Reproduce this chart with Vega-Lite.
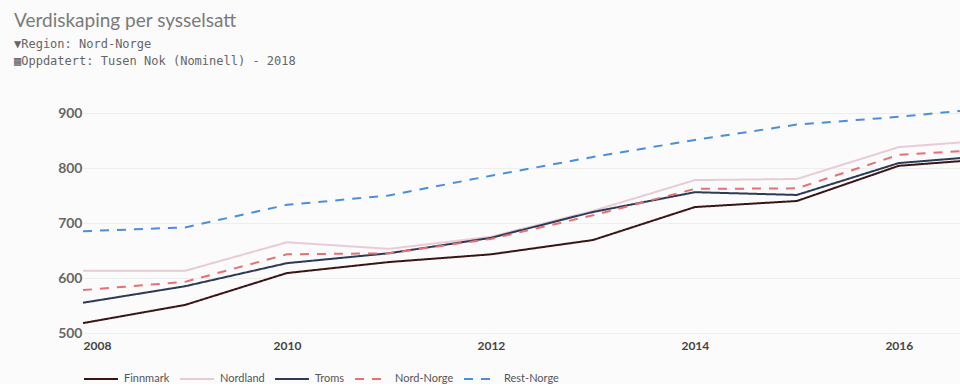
{
  "$schema": "https://vega.github.io/schema/vega-lite/v6.json",
  "width": 877,
  "height": 231,
  "padding": {"left": 14, "top": 12, "right": 0, "bottom": 0},
  "background": "#fbfbfb",
  "title": {
    "text": "Verdiskaping per sysselsatt",
    "subtitle": ["▼Region: Nord-Norge", "▦Oppdatert: Tusen Nok (Nominell) - 2018"],
    "anchor": "start",
    "frame": "bounds",
    "font": "Lato",
    "fontSize": 19,
    "fontWeight": "normal",
    "color": "#7a7a7a",
    "subtitleFont": "DejaVu Sans Mono",
    "subtitleFontSize": 12,
    "subtitleColor": "#666666",
    "subtitleLineHeight": 17,
    "subtitlePadding": 8,
    "offset": 35
  },
  "data": {
    "values": [
      {"year": 2008, "region": "Finnmark", "value": 518},
      {"year": 2009, "region": "Finnmark", "value": 551},
      {"year": 2010, "region": "Finnmark", "value": 609},
      {"year": 2011, "region": "Finnmark", "value": 629},
      {"year": 2012, "region": "Finnmark", "value": 643},
      {"year": 2013, "region": "Finnmark", "value": 669},
      {"year": 2014, "region": "Finnmark", "value": 729},
      {"year": 2015, "region": "Finnmark", "value": 740},
      {"year": 2016, "region": "Finnmark", "value": 804},
      {"year": 2017, "region": "Finnmark", "value": 818},
      {"year": 2008, "region": "Nordland", "value": 613},
      {"year": 2009, "region": "Nordland", "value": 613},
      {"year": 2010, "region": "Nordland", "value": 665},
      {"year": 2011, "region": "Nordland", "value": 653},
      {"year": 2012, "region": "Nordland", "value": 675},
      {"year": 2013, "region": "Nordland", "value": 722},
      {"year": 2014, "region": "Nordland", "value": 778},
      {"year": 2015, "region": "Nordland", "value": 780},
      {"year": 2016, "region": "Nordland", "value": 838},
      {"year": 2017, "region": "Nordland", "value": 852},
      {"year": 2008, "region": "Troms", "value": 555},
      {"year": 2009, "region": "Troms", "value": 585},
      {"year": 2010, "region": "Troms", "value": 627},
      {"year": 2011, "region": "Troms", "value": 645},
      {"year": 2012, "region": "Troms", "value": 673},
      {"year": 2013, "region": "Troms", "value": 720},
      {"year": 2014, "region": "Troms", "value": 756},
      {"year": 2015, "region": "Troms", "value": 751},
      {"year": 2016, "region": "Troms", "value": 809},
      {"year": 2017, "region": "Troms", "value": 824},
      {"year": 2008, "region": "Nord-Norge", "value": 578},
      {"year": 2009, "region": "Nord-Norge", "value": 593},
      {"year": 2010, "region": "Nord-Norge", "value": 643},
      {"year": 2011, "region": "Nord-Norge", "value": 645},
      {"year": 2012, "region": "Nord-Norge", "value": 671},
      {"year": 2013, "region": "Nord-Norge", "value": 714},
      {"year": 2014, "region": "Nord-Norge", "value": 762},
      {"year": 2015, "region": "Nord-Norge", "value": 763},
      {"year": 2016, "region": "Nord-Norge", "value": 824},
      {"year": 2017, "region": "Nord-Norge", "value": 835},
      {"year": 2008, "region": "Rest-Norge", "value": 685},
      {"year": 2009, "region": "Rest-Norge", "value": 692},
      {"year": 2010, "region": "Rest-Norge", "value": 733},
      {"year": 2011, "region": "Rest-Norge", "value": 750},
      {"year": 2012, "region": "Rest-Norge", "value": 786},
      {"year": 2013, "region": "Rest-Norge", "value": 820},
      {"year": 2014, "region": "Rest-Norge", "value": 851},
      {"year": 2015, "region": "Rest-Norge", "value": 879},
      {"year": 2016, "region": "Rest-Norge", "value": 893},
      {"year": 2017, "region": "Rest-Norge", "value": 911}
    ]
  },
  "mark": {"type": "line", "strokeWidth": 2, "clip": true},
  "encoding": {
    "x": {
      "field": "year",
      "type": "quantitative",
      "scale": {"domain": [2008, 2016.6], "nice": false, "zero": false},
      "axis": {
        "title": null,
        "values": [2008, 2010, 2012, 2014, 2016],
        "format": "d",
        "grid": false,
        "ticks": false,
        "domain": false,
        "labelPadding": 7,
        "labelFont": "Lato",
        "labelFontSize": 12,
        "labelFontWeight": "bold",
        "labelColor": "#444444"
      }
    },
    "y": {
      "field": "value",
      "type": "quantitative",
      "scale": {"domain": [500, 920], "nice": false, "zero": false},
      "axis": {
        "title": null,
        "values": [500, 600, 700, 800, 900],
        "grid": true,
        "gridColor": "#eeeeee",
        "ticks": false,
        "domain": false,
        "labelPadding": 1,
        "labelFont": "Lato",
        "labelFontSize": 14,
        "labelFontWeight": "bold",
        "labelColor": "#666666",
        "minExtent": 69,
        "maxExtent": 69
      }
    },
    "color": {
      "field": "region",
      "type": "nominal",
      "scale": {
        "domain": ["Finnmark", "Nordland", "Troms", "Nord-Norge", "Rest-Norge"],
        "range": ["#3b1515", "#e8cbd6", "#2b3a56", "#e86f72", "#4a8fdc"]
      },
      "legend": {
        "title": null,
        "orient": "bottom",
        "direction": "horizontal",
        "symbolType": "stroke",
        "symbolSize": 1156,
        "symbolStrokeWidth": 2,
        "labelFont": "Lato",
        "labelFontSize": 11,
        "labelColor": "#555555",
        "labelOffset": 5,
        "columnPadding": 6,
        "offset": 10
      }
    },
    "strokeDash": {
      "field": "region",
      "type": "nominal",
      "scale": {
        "domain": ["Finnmark", "Nordland", "Troms", "Nord-Norge", "Rest-Norge"],
        "range": [[1, 0], [1, 0], [1, 0], [9, 8], [9, 8]]
      },
      "legend": {
        "title": null,
        "orient": "bottom",
        "direction": "horizontal",
        "symbolType": "stroke",
        "symbolSize": 1156,
        "symbolStrokeWidth": 2,
        "labelFont": "Lato",
        "labelFontSize": 11,
        "labelColor": "#555555",
        "labelOffset": 5,
        "columnPadding": 6,
        "offset": 10
      }
    }
  },
  "config": {
    "view": {"stroke": null}
  }
}
